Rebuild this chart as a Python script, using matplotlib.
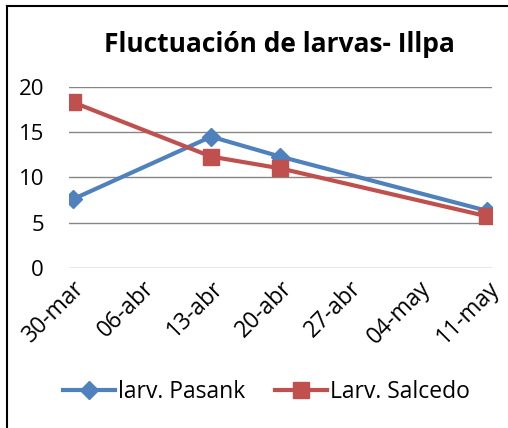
import datetime as dt
import matplotlib
matplotlib.use("Agg")
import matplotlib.pyplot as plt
import matplotlib.dates as mdates
from matplotlib.lines import Line2D

plt.rcParams['font.family'] = ['Open Sans', 'DejaVu Sans']

fechas = [dt.date(2013, 3, 30), dt.date(2013, 4, 13), dt.date(2013, 4, 20), dt.date(2013, 5, 11)]
pasank = [7.6, 14.5, 12.3, 6.3]
salcedo = [18.3, 12.3, 11.0, 5.7]
tick_fechas = [dt.date(2013, 3, 30) + dt.timedelta(days=7 * i) for i in range(7)]
tick_labels = ['30-mar', '06-abr', '13-abr', '20-abr', '27-abr', '04-may', '11-may']

fig = plt.figure(figsize=(5.08, 4.28), dpi=100)
ax = fig.add_axes([0.136, 0.374, 0.833, 0.423])

ax.plot(fechas, pasank, color='#4F81BD', lw=3, marker='D', ms=9, label='larv. Pasank')
ax.plot(fechas, salcedo, color='#C0504D', lw=3, marker='s', ms=11, label='Larv. Salcedo')

ax.set_ylim(0, 20)
ax.set_yticks([0, 5, 10, 15, 20])
ax.set_xlim(mdates.date2num(fechas[0]) - 0.4, mdates.date2num(fechas[-1]) + 0.5)
ax.set_xticks(tick_fechas)
ax.set_xticklabels(tick_labels, rotation=45, ha='right', rotation_mode='anchor')
ax.tick_params(axis='both', length=0)
ax.tick_params(axis='x', pad=6, labelsize=16.5)
ax.tick_params(axis='y', pad=18, labelsize=16)
ax.grid(axis='y', color='#868686', lw=1)
ax.set_axisbelow(True)
for s in ax.spines.values():
    s.set_visible(False)

fig.text(0.551, 0.895, 'Fluctuación de larvas- Illpa', ha='center', va='center',
         fontsize=19, fontweight='bold')

fig.legend(loc='center', bbox_to_anchor=(0.524, 0.085), ncol=2, frameon=False,
           fontsize=16.5, handlelength=2.3, columnspacing=1.3, handletextpad=0.1)

# marco del grafico (solo izquierda y arriba visibles)
fig.add_artist(Line2D([0.013, 0.013], [0, 0.986], color='black', lw=1.5, transform=fig.transFigure))
fig.add_artist(Line2D([0.013, 1], [0.986, 0.986], color='black', lw=1.5, transform=fig.transFigure))

fig.savefig('out.png', dpi=100)
